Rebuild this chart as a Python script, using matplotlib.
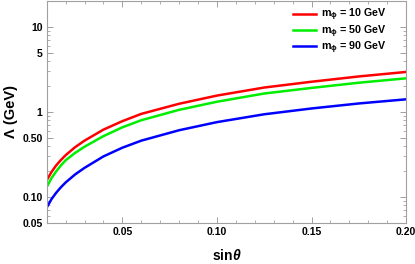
import matplotlib
matplotlib.use("Agg")
import matplotlib.pyplot as plt
from matplotlib.ticker import FixedLocator, FixedFormatter, NullFormatter
import numpy as np

# values
sin_theta = [0.010, 0.0125, 0.015, 0.0175, 0.020, 0.025, 0.030, 0.040, 0.050,
             0.060, 0.080, 0.100, 0.125, 0.150, 0.175, 0.200]
lam_10 = [0.157, 0.196, 0.235, 0.272, 0.310, 0.385, 0.460, 0.620, 0.780,
          0.950, 1.250, 1.560, 1.940, 2.270, 2.620, 2.960]
lam_50 = [0.131, 0.166, 0.200, 0.235, 0.270, 0.330, 0.390, 0.520, 0.660,
          0.800, 1.060, 1.320, 1.650, 1.920, 2.210, 2.490]
lam_90 = [0.075, 0.094, 0.112, 0.130, 0.148, 0.184, 0.220, 0.300, 0.380,
          0.460, 0.610, 0.760, 0.940, 1.100, 1.260, 1.410]
labels = [r"$\mathbf{m_{\phi}}$ = 10 GeV", r"$\mathbf{m_{\phi}}$ = 50 GeV",
          r"$\mathbf{m_{\phi}}$ = 90 GeV"]
colors = ["#ff0000", "#00ee00", "#0000ff"]

yticks = [0.05, 0.1, 0.5, 1, 5, 10]
ytick_labels = ["0.05", "0.10", "0.50", "1", "5", "10"]
xticks = [0.05, 0.10, 0.15, 0.20]
xtick_labels = ["0.05", "0.10", "0.15", "0.20"]

plt.rcParams['font.family'] = ['Liberation Sans', 'DejaVu Sans']
plt.rcParams['mathtext.fontset'] = 'custom'
plt.rcParams['mathtext.rm'] = 'Liberation Sans:bold'
plt.rcParams['mathtext.it'] = 'Liberation Sans:italic:bold'
plt.rcParams['mathtext.bf'] = 'Liberation Sans:bold'

fig = plt.figure(figsize=(4.15, 2.64), dpi=100)
ax = fig.add_axes([0.1125, 0.157, 0.866, 0.841])

for ys, c, lab in zip([lam_10, lam_50, lam_90], colors, labels):
    ax.plot(sin_theta, ys, color=c, lw=1.8, label=lab)

ax.set_yscale('log')
ax.set_xlim(0.01, 0.20)
ax.set_ylim(0.05, 20.5)

ax.yaxis.set_major_locator(FixedLocator(yticks))
ax.yaxis.set_major_formatter(FixedFormatter(ytick_labels))
minor_y = [m * 10.0 ** e for e in range(-2, 2) for m in range(1, 10)]
minor_y = [v for v in minor_y if 0.05 <= v <= 20.5 and not any(abs(v - t) < 1e-9 for t in yticks)]
ax.yaxis.set_minor_locator(FixedLocator(minor_y))
ax.yaxis.set_minor_formatter(NullFormatter())

ax.xaxis.set_major_locator(FixedLocator(xticks))
ax.xaxis.set_major_formatter(FixedFormatter(xtick_labels))
ax.xaxis.set_minor_locator(FixedLocator(np.arange(0.01, 0.2001, 0.01)))

frame = "#a0a0a0"
for s in ax.spines.values():
    s.set_color(frame)
    s.set_linewidth(0.8)
ax.tick_params(which='both', direction='in', top=True, right=True, color=frame,
               labelsize=7.5, pad=3)
ax.tick_params(which='major', length=4, width=0.7)
ax.tick_params(which='minor', length=2, width=0.6)
for t in ax.get_xticklabels() + ax.get_yticklabels():
    t.set_fontweight('bold')

ax.set_xlabel(r"sin$\theta$", fontsize=10, fontweight='bold', labelpad=8)
ax.set_ylabel(r"Λ (GeV)", fontsize=10.5, fontweight='bold', labelpad=3)

leg = ax.legend(loc='upper right', bbox_to_anchor=(0.946, 0.972), frameon=False,
                fontsize=7.7, handlelength=2.1, handletextpad=0.5,
                labelspacing=0.0, borderaxespad=0, borderpad=0)
for t in leg.get_texts():
    t.set_fontweight('bold')

fig.savefig("out.png", dpi=100)
